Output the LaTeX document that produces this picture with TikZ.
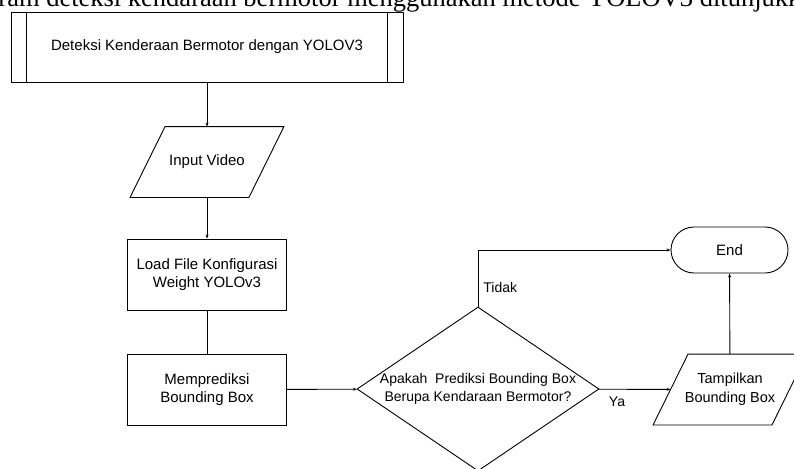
\documentclass[tikz,border=0pt]{standalone}
\usepackage{fontspec}
\setmainfont{Liberation Sans}
\newfontfamily\docserif{Liberation Serif}
\usetikzlibrary{shapes.geometric,arrows.meta,calc}
\begin{document}
\begin{tikzpicture}[x=1pt,y=-1pt,line width=0.9pt,
  txt/.style={font=\fontsize{15pt}{18.5pt}\selectfont},
  procbox/.style={draw,rectangle,minimum width=159pt,minimum height=71pt,inner sep=0pt,align=center,txt},
  iobox/.style={rectangle,minimum width=118pt,minimum height=70pt,inner sep=0pt,align=center,txt},
  decbox/.style={draw,diamond,aspect=1.4756,minimum width=242pt,minimum height=164pt,inner sep=-3pt,align=center,
    font=\fontsize{14pt}{18.5pt}\selectfont},
  termbox/.style={draw,rectangle,rounded corners=23pt,minimum width=117pt,minimum height=46pt,inner sep=0pt,txt},
  arr/.style={-{Stealth[length=4pt,width=3pt]}},
  lbl/.style={inner sep=0pt,font=\fontsize{14pt}{17pt}\selectfont}]
\useasboundingbox (0,0) rectangle (794,468);
\clip (0,0) rectangle (794,468);

\node[anchor=base west,inner sep=0pt,font=\docserif\fontsize{26.5pt}{30pt}\selectfont] (caption) at (-2,6.5)
  {ram deteksi kendaraan bermotor menggunakan metode YOLOV3 ditunjukkan};

\node[draw,rectangle,minimum width=392pt,minimum height=70pt,inner sep=0pt,font=\fontsize{15pt}{18pt}\selectfont] (top) at (207,47)
  {Deteksi Kenderaan Bermotor dengan YOLOV3};
\draw ([xshift=16pt]top.north west) -- ([xshift=16pt]top.south west);
\draw ([xshift=-16pt]top.north east) -- ([xshift=-16pt]top.south east);

\node[iobox] (in) at (207,162) {Input Video};
\draw ([xshift=-17.5pt]in.south west) -- ([xshift=17.5pt]in.north west) -- ([xshift=17.5pt]in.north east)
  -- ([xshift=-17.5pt]in.south east) -- cycle;
\node[procbox] (load) at (207,274.5) {Load File Konfigurasi\\Weight YOLOv3};
\node[procbox] (mp) at (207,389.5) {Memprediksi\\Bounding Box};
\node[decbox] (dec) at (478,389) {Apakah\ \ Prediksi Bounding Box\\Berupa Kendaraan Bermotor?};
\node[termbox] (end) at (729.5,250) {End};
\node[iobox,font=\fontsize{14.5pt}{19pt}\selectfont] (tamp) at (730,389.5) {Tampilkan\\Bounding Box};
\draw ([xshift=-17.5pt]tamp.south west) -- ([xshift=17.5pt]tamp.north west) -- ([xshift=17.5pt]tamp.north east)
  -- ([xshift=-17.5pt]tamp.south east) -- cycle;

\draw[arr] (top) -- (in);
\draw[arr] (in) -- (load);
\draw (load) -- (mp);
\draw[arr] (mp) -- (dec);
\draw[arr] (dec.north) |- (end);
\draw[arr] (dec) -- (tamp);
\draw[arr] (tamp) -- (end);

\node[lbl,anchor=west] (tidak) at (483,287) {Tidak};
\node[lbl] (ya) at (617,402) {Ya};
\end{tikzpicture}
\end{document}
